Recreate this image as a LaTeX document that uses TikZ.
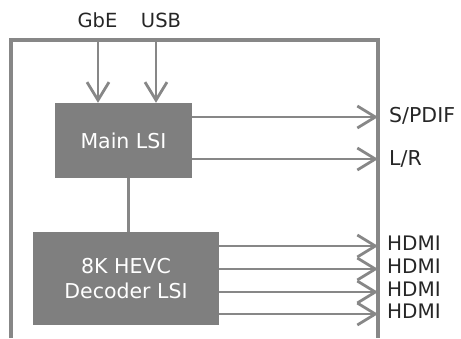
\documentclass[tikz,border=0pt]{standalone}
\usepackage{fontspec}
\setmainfont{DejaVu Sans}
\usetikzlibrary{arrows.meta}
\definecolor{lineg}{HTML}{878787}
\definecolor{boxg}{HTML}{7F7F7F}
\definecolor{txtg}{HTML}{262626}
\tikzset{
  frameline/.style={draw=lineg, line width=3.3pt},
  conn/.style={draw=lineg, line width=3pt},
  arr/.style={draw=lineg, line width=2.8pt, -{Straight Barb[length=18pt,width=22pt]}},
  chip/.style={fill=boxg, draw=none, text=white, align=center, font=\fontsize{20.5}{25}\selectfont, inner sep=0pt},
  lbl/.style={text=txtg, inner sep=0pt, font=\fontsize{19.5}{22}\selectfont, text height=0.73em, text depth=0pt},
  lblbig/.style={lbl, font=\fontsize{20.5}{24}\selectfont},
  lblh/.style={lbl, font=\fontsize{20}{24}\selectfont},
}
\begin{document}
\begin{tikzpicture}[x=1pt,y=-1pt]
\useasboundingbox (0,0) rectangle (461,338);
% frame
\coordinate (fbl) at (11,338);
\coordinate (ftl) at (11,40);
\coordinate (ftr) at (378,40);
\coordinate (fbr) at (378,338);
\draw[frameline] (fbl) -- (ftl) -- (ftr) -- (fbr);
% chips
\node[chip, minimum width=137pt, minimum height=75pt] (main) at (123.5,140.5) {Main LSI};
\node[chip, minimum width=186pt, minimum height=93pt] (dec) at (126,278.5) {8K HEVC\\Decoder LSI};
% inputs
\node[lbl, anchor=center] (gbe) at (97.5,24) {GbE};
\node[lbl, anchor=center] (usb) at (161,24) {USB};
\coordinate (gbein) at (98,40);
\coordinate (usbin) at (156,40);
\draw[arr] (gbein) -- (gbein |- main.north);
\draw[arr] (usbin) -- (usbin |- main.north);
% main to decoder
\coordinate (link) at (128,178);
\draw[conn] (link |- main.south) -- (link |- dec.north);
% outputs of main
\coordinate (spdif) at (378,117);
\coordinate (lr) at (378,159);
\draw[arr] (main.east |- spdif) -- (spdif);
\draw[arr] (main.east |- lr) -- (lr);
\node[lblbig, anchor=west] (spdifl) at (389,118.5) {S/PDIF};
\node[lblbig, anchor=west] (lrl) at (389,162) {L/R};
% outputs of decoder
\foreach \i/\y in {1/246,2/269,3/292,4/314}{
  \coordinate (h\i) at (378,\y);
  \draw[arr] (dec.east |- h\i) -- (h\i);
  \node[lblh, anchor=west] (hl\i) at (387,\y+0.5) {HDMI};
}
\end{tikzpicture}
\end{document}
